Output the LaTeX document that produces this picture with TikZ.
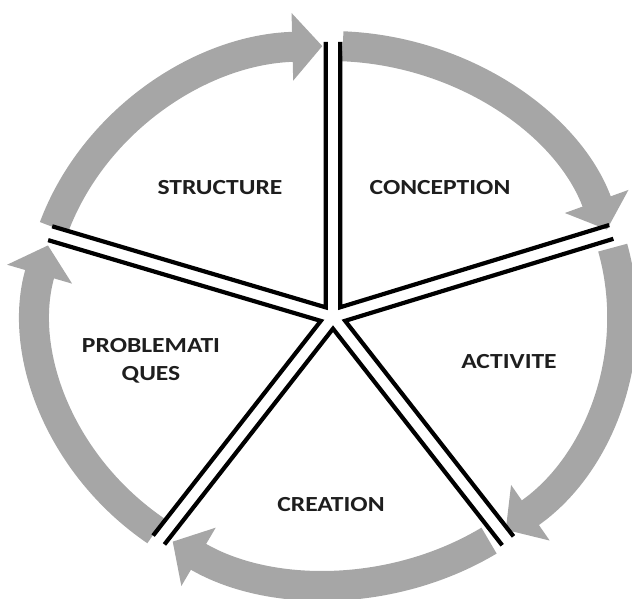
\documentclass[tikz,border=0pt]{standalone}
\usepackage{fontspec}
\newfontfamily\labfont[FakeStretch=1.19]{Carlito}
\usetikzlibrary{arrows.meta,calc}
\definecolor{arcgray}{RGB}{166,166,166}
\definecolor{txtcol}{RGB}{30,30,30}
\begin{document}
\begin{tikzpicture}[x=1pt,y=1pt,
  band/.style={draw=arcgray, line width=30pt, -{Triangle[width=66pt,length=30pt]}},
  spokeline/.style={draw=black, line width=4.2pt, line join=miter},
  lab/.style={font=\labfont\bfseries\fontsize{21.5}{28}\selectfont, text=txtcol, inner sep=0pt, align=center}]
\useasboundingbox (0,0) rectangle (632,-599);
\coordinate (C) at (330,-315);
\coordinate (S) at (333,-317);
\def\rx{292}\def\ry{269}\def\dd{7.2}
% gray cycle arrows
\draw[band] ($(C)+({\rx*cos(161)},{\ry*sin(161)})$) arc[start angle=161, end angle=91.5, x radius=\rx, y radius=\ry];
\draw[band] ($(C)+({\rx*cos(87.5)},{\ry*sin(87.5)})$) arc[start angle=87.5, end angle=18.5, x radius=\rx, y radius=\ry];
\draw[band] ($(C)+({\rx*cos(14.5)},{\ry*sin(14.5)})$) arc[start angle=14.5, end angle=-53, x radius=\rx, y radius=\ry];
\draw[band] ($(C)+({\rx*cos(-57)},{\ry*sin(-57)})$) arc[start angle=-57, end angle=-122.6, x radius=\rx, y radius=\ry];
\draw[band] ($(C)+({\rx*cos(-126.6)},{\ry*sin(-126.6)})$) arc[start angle=-126.6, end angle=-195, x radius=\rx, y radius=\ry];
% apexes of the central star
\coordinate (P12) at ($(S)+(53.5:12.1)$);
\coordinate (P23) at ($(S)+(-17.5:12.7)$);
\coordinate (P34) at ($(S)+(-90:11.7)$);
\coordinate (P45) at ($(S)+(-162.25:12.8)$);
\coordinate (P51) at ($(S)+(126.75:12.0)$);
% spoke ends
\coordinate (E1a) at ($(S)+(90:275)+(0:\dd)$);
\coordinate (E1b) at ($(S)+(90:275)+(180:\dd)$);
\coordinate (E2a) at ($(S)+(17:291)+(-73:\dd)$);
\coordinate (E2b) at ($(S)+(17:291)+(107:\dd)$);
\coordinate (E3a) at ($(S)+(-52:284)+(-142:\dd)$);
\coordinate (E3b) at ($(S)+(-52:284)+(38:\dd)$);
\coordinate (E4a) at ($(S)+(-128:283)+(-218:\dd)$);
\coordinate (E4b) at ($(S)+(-128:283)+(-38:\dd)$);
\coordinate (E5a) at ($(S)+(-196.5:295)+(-286.5:\dd)$);
\coordinate (E5b) at ($(S)+(-196.5:295)+(-106.5:\dd)$);
\draw[spokeline] (E1a) -- (P12) -- (E2b);
\draw[spokeline] (E2a) -- (P23) -- (E3b);
\draw[spokeline] (E3a) -- (P34) -- (E4b);
\draw[spokeline] (E4a) -- (P45) -- (E5b);
\draw[spokeline] (E5a) -- (P51) -- (E1b);
% labels
\node[lab] (structure) at (220,-188) {STRUCTURE};
\node[lab] (conception) at (440,-188) {CONCEPTION};
\node[lab] (activite) at (509,-362) {ACTIVITE};
\node[lab] (creation) at (331,-505) {CREATION};
\node[lab] (problem) at (151,-361) {PROBLEMATI\\QUES};
\end{tikzpicture}
\end{document}
